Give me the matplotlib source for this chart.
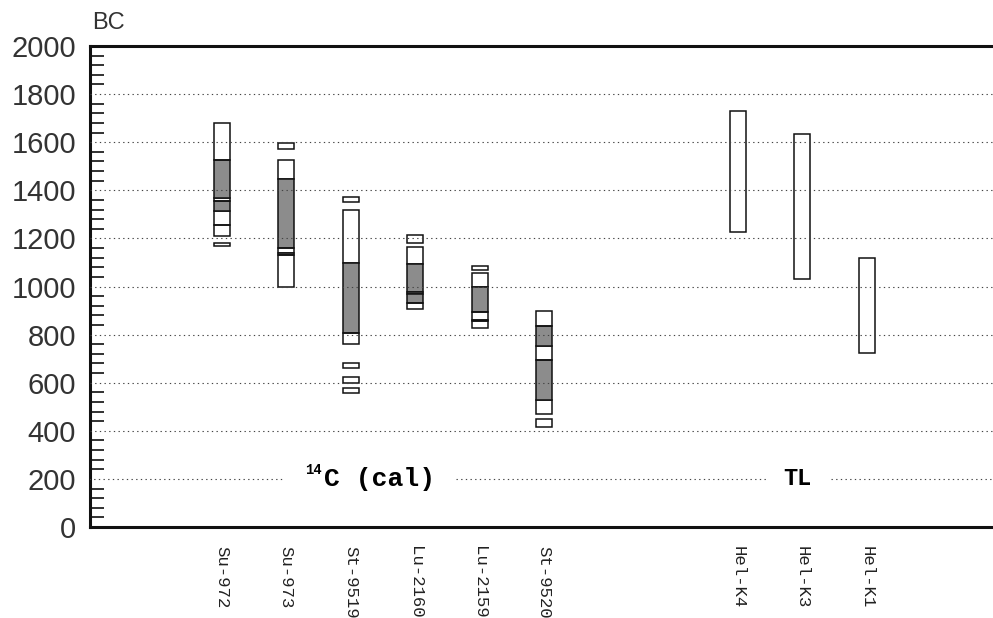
import matplotlib
matplotlib.use('Agg')
import matplotlib.pyplot as plt
from matplotlib.ticker import MultipleLocator

# sample names and their column positions
NAMES = ['Su-972', 'Su-973', 'St-9519', 'Lu-2160', 'Lu-2159', 'St-9520',
         'Hel-K4', 'Hel-K3', 'Hel-K1']
POS = [1, 2, 3, 4, 5, 6, 9, 10, 11]

# (from BC, to BC, shaded) for every box of a sample
SU972 = [(1168, 1182, 0), (1210, 1255, 0), (1255, 1312, 0), (1312, 1354, 1),
         (1354, 1368, 0), (1368, 1528, 1), (1528, 1678, 0)]
SU973 = [(1570, 1595, 0), (1449, 1528, 0), (1162, 1449, 1), (1140, 1162, 0),
         (1130, 1140, 1), (998, 1130, 0)]
ST9519 = [(1350, 1372, 0), (1099, 1317, 0), (805, 1099, 1), (760, 805, 0),
          (660, 683, 0), (598, 625, 0), (556, 577, 0)]
LU2160 = [(1180, 1215, 0), (1093, 1165, 0), (977, 1093, 1), (967, 977, 1),
          (930, 967, 1), (906, 930, 0)]
LU2159 = [(1070, 1084, 0), (1000, 1056, 0), (894, 1000, 1), (862, 894, 0),
          (855, 862, 1), (827, 855, 0)]
ST9520 = [(414, 449, 0), (470, 528, 0), (528, 696, 1), (696, 754, 0),
          (754, 835, 1), (835, 897, 0)]
HELK4 = [(1228, 1730, 0)]
HELK3 = [(1030, 1633, 0)]
HELK1 = [(722, 1118, 0)]
SAMPLES = [SU972, SU973, ST9519, LU2160, LU2159, ST9520, HELK4, HELK3, HELK1]

YTICKS = list(range(0, 2001, 200))

fig = plt.figure(figsize=(9.93, 6.18), dpi=100)
ax = fig.add_axes([0.0906, 0.1472, 1.0 - 0.0906, 0.9256 - 0.1472])

for x, boxes in zip(POS, SAMPLES):
    for lo, hi, shade in boxes:
        ax.bar(x, hi - lo, bottom=lo, width=0.25,
               facecolor='#8c8c8c' if shade else 'none',
               edgecolor='#111111', linewidth=1.1, zorder=2)

# dotted grid lines, the 200 line is broken for the labels
dots = dict(color='#444444', linewidth=0.8, linestyle=(0, (1.2, 3)), zorder=3)
for y in YTICKS[2:-1]:
    ax.axhline(y, **dots)
for a, b in [(-1.05, 1.93), (4.63, 9.45), (10.45, 13.5)]:
    ax.plot([a, b], [200, 200], **dots)

ax.text(2.29, 207, '14', fontsize=10, fontweight='bold',
        family='Liberation Mono', va='bottom', ha='left')
ax.text(2.58, 200, 'C (cal)', fontsize=19, fontweight='bold',
        family='Liberation Mono', va='center', ha='left')
ax.text(9.92, 200, 'TL', fontsize=17, fontweight='bold',
        family='Liberation Mono', va='center', ha='center')

ax.set_xlim(-1.042, 12.958)
ax.set_ylim(0, 2000)

ax.set_yticks(YTICKS)
ax.set_yticklabels([str(v) for v in YTICKS], fontsize=21,
                   family='Liberation Sans', color='#333333')
ax.yaxis.set_minor_locator(MultipleLocator(40))
ax.tick_params(axis='y', which='major', length=0, pad=10)
ax.tick_params(axis='y', which='minor', direction='in', length=10,
               width=1.3, color='#222222')

ax.set_xticks(POS)
ax.set_xticklabels(NAMES, rotation=-90, fontsize=12.5, family='Liberation Mono',
                   color='#222222')
ax.tick_params(axis='x', length=0, pad=14)

for s in ['top', 'bottom', 'left']:
    ax.spines[s].set_linewidth(2.2)
    ax.spines[s].set_color('#111111')
ax.spines['right'].set_visible(False)

ax.text(0.002, 1.025, 'BC', transform=ax.transAxes, fontsize=17,
        family='Liberation Sans', color='#333333', ha='left', va='bottom')

fig.savefig('out.png', dpi=100)
